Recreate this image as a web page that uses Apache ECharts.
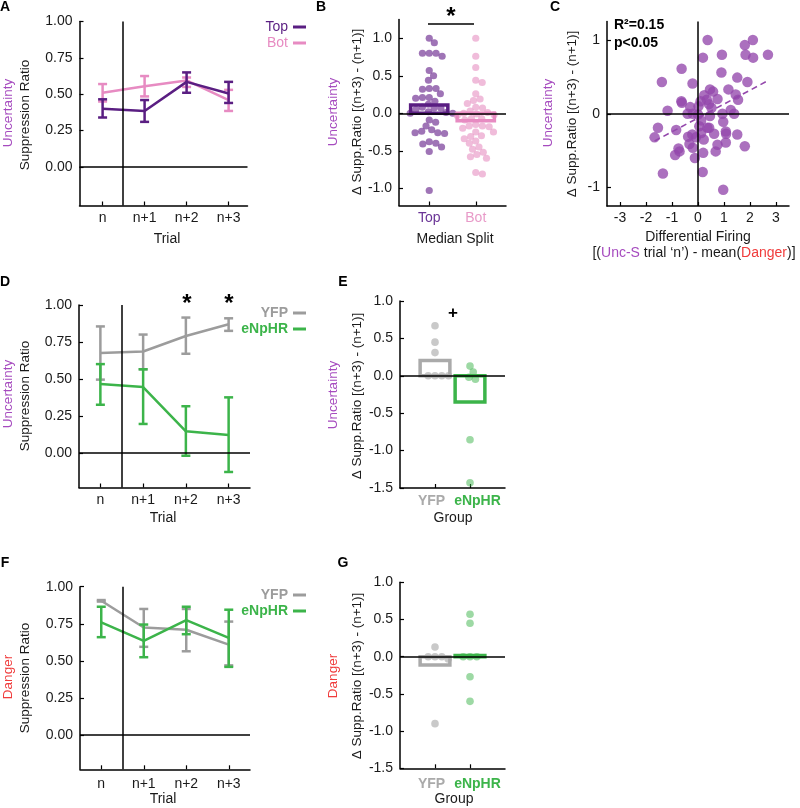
<!DOCTYPE html>
<html><head><meta charset="utf-8">
<script src="https://cdn.jsdelivr.net/npm/echarts@6/dist/echarts.min.js"></script>
<style>html,body{margin:0;padding:0;background:#fff}#c{width:800px;height:808px}</style>
</head><body><div id="c"></div>
<script>
// ---------------- DATA ----------------
const trialLabels = ['n', 'n+1', 'n+2', 'n+3'];
const trialPos = [1, 2, 3, 4];

// Panel A (Uncertainty, median split)
const aTopMean = [0.40, 0.385, 0.585, 0.505];
const aTopLo   = [0.34, 0.31, 0.51, 0.44];
const aTopHi   = [0.465, 0.46, 0.65, 0.585];
const aBotMean = [0.51, 0.555, 0.595, 0.46];
const aBotLo   = [0.45, 0.485, 0.55, 0.385];
const aBotHi   = [0.57, 0.625, 0.615, 0.53];

// Panel B
const splitLabels = ['Top', 'Bot'];
const bTop = [1.0, 0.94, 0.80, 0.80, 0.80, 0.76, 0.57, 0.50, 0.44, 0.33, 0.33, 0.32, 0.26, 0.21, 0.21, 0.20,
  0.16, 0.12, 0.08, 0.07, 0.07, 0.05, 0.02, 0.01, 0.0, 0.0, -0.09, -0.12, -0.17, -0.22, -0.24, -0.26, -0.27,
  -0.26, -0.38, -0.40, -0.41, -0.45, -0.51, -1.03];
const bBot = [1.0, 0.76, 0.61, 0.44, 0.41, 0.26, 0.19, 0.17, 0.13, 0.08, 0.07, 0.03, 0.01, 0.0, -0.01, -0.02,
  -0.03, -0.07, -0.07, -0.09, -0.15, -0.17, -0.17, -0.18, -0.20, -0.25, -0.25, -0.30, -0.31, -0.34, -0.37,
  -0.40, -0.45, -0.48, -0.52, -0.55, -0.58, -0.60, -0.79, -0.81];
const bMeans = [0.11, -0.10];

// Panel C
const cX = [0.37, 0.19, 0.92, 1.80, 2.11, 1.83, 2.12, 2.69, -0.63, -1.39, -0.21, 0.90, 1.90, 1.51, -0.64, -0.62,
  -1.17, -0.30, -0.40, -0.20, 0.00, 0.24, 0.46, 0.58, 0.34, 0.75, 0.42, 0.52, 1.17, 1.45, 1.54, 1.26, 1.39, 0.94,
  -1.54, -1.67, -0.84, -0.22, -0.08, -0.33, -0.20, -0.71, -0.88, -0.12, -1.35, 0.18, 0.20, 0.22, 0.43, 0.62, 0.68,
  0.75, 1.07, 1.07, 0.97, 1.51, 1.80, 0.97, 0.12, 0.02, 0.10, 0.46, 0.05, -0.38, -0.75, 0.12, 0.36, 1.08];
const cY = [1.00, 0.76, 0.80, 0.93, 1.00, 0.80, 0.76, 0.80, 0.61, 0.43, 0.41, 0.56, 0.43, 0.49, 0.17, 0.15,
  0.04, 0.09, 0.00, 0.00, -0.01, 0.25, 0.33, 0.30, 0.19, 0.20, 0.13, 0.08, 0.33, 0.26, 0.19, 0.05, 0.00, 0.00,
  -0.19, -0.32, -0.22, -0.28, -0.32, -0.41, -0.46, -0.51, -0.56, -0.60, -0.81, -0.79, -0.53, -0.35, -0.19, -0.27, -0.51,
  -0.42, -0.39, -0.24, -0.11, -0.28, -0.44, -1.03, -0.09, 0.10, 0.17, -0.03, -0.17, -0.31, -0.47, -0.26, -0.19, -0.27];
const cFitX = [-1.67, 2.70];
const cFitY = [-0.37, 0.45];
const cStats = ['R\u00b2=0.15', 'p<0.05'];

// Panels D-G
const groupLabels = ['YFP', 'eNpHR'];
const dYfpMean = [0.675, 0.685, 0.79, 0.87];
const dYfpLo   = [0.495, 0.565, 0.67, 0.825];
const dYfpHi   = [0.855, 0.80, 0.915, 0.91];
const dNpMean  = [0.465, 0.445, 0.145, 0.12];
const dNpLo    = [0.325, 0.195, -0.02, -0.13];
const dNpHi    = [0.60, 0.565, 0.315, 0.375];

const eYfp = [0.67, 0.45, 0.31, 0.0, 0.0, 0.0, 0.0];
const eNp  = [0.13, 0.05, -0.02, -0.045, -0.855, -1.43];
const eMeans = [0.205, -0.35];

const fYfpMean = [0.905, 0.725, 0.71, 0.61];
const fYfpLo   = [0.90, 0.595, 0.565, 0.47];
const fYfpHi   = [0.91, 0.85, 0.85, 0.765];
const fNpMean  = [0.76, 0.635, 0.775, 0.655];
const fNpLo    = [0.66, 0.525, 0.68, 0.46];
const fNpHi    = [0.865, 0.745, 0.865, 0.845];

const gYfp = [0.13, 0.0, 0.0, 0.0, -0.03, -0.9];
const gNp  = [0.57, 0.45, 0.0, 0.0, 0.0, -0.27, -0.6];
const gMeans = [-0.11, 0.015];

// ---------------- STYLE ----------------
const FONT = '"Liberation Sans", Arial, Helvetica, sans-serif';
const PURPLE_LBL = '#a64bbf';
const RED_LBL = '#f03c3c';
const TOP_C = '#5a1e82';
const BOT_C = '#e78bc2';
const GRAY_C = '#9c9c9c';
const GREEN_C = '#3cb44a';

const L = {
  A: {left: 79.5, top: 21.5, width: 168, height: 184, xmin: 0.45, xmax: 4.45, ymin: -0.265, ymax: 1},
  B: {left: 399, top: 19.5, width: 107, height: 186, xmin: 0.35, xmax: 2.65, ymin: -1.23, ymax: 1.25},
  C: {left: 607, top: 21.5, width: 182, height: 184.5, xmin: -3.5, xmax: 3.5, ymin: -1.25, ymax: 1.25},
  D: {left: 79, top: 305, width: 171, height: 182.5, xmin: 0.5, xmax: 4.5, ymin: -0.235, ymax: 1},
  E: {left: 400, top: 301, width: 105, height: 187, xmin: 0, xmax: 3, ymin: -1.5, ymax: 1},
  F: {left: 80, top: 586.7, width: 170, height: 182.6, xmin: 0.5, xmax: 4.5, ymin: -0.23, ymax: 1},
  G: {left: 400, top: 582.3, width: 105, height: 186, xmin: 0, xmax: 3, ymin: -1.5, ymax: 1}
};
const keys = ['A', 'B', 'C', 'D', 'E', 'F', 'G'];

function axisBase(min, max) {
  return {
    type: 'value', min: min, max: max, scale: true,
    axisLine: {show: true, onZero: false, lineStyle: {color: '#000', width: 1.5}},
    axisTick: {show: true, inside: true, length: 4, lineStyle: {color: '#000', width: 1.2}},
    axisLabel: {fontSize: 14, color: '#1a1a1a', fontFamily: FONT, interval: 0, hideOverlap: false,
      showMinLabel: true, showMaxLabel: true},
    splitLine: {show: false}
  };
}
const grids = keys.map(k => ({left: L[k].left, top: L[k].top, width: L[k].width, height: L[k].height}));

const xAxes = [], yAxes = [];
keys.forEach((k, i) => {
  const g = L[k];
  const x = axisBase(g.xmin, g.xmax); x.gridIndex = i;
  const y = axisBase(g.ymin, g.ymax); y.gridIndex = i;
  y.axisLabel.margin = 7;
  if (k === 'A' || k === 'D' || k === 'F') {
    x.axisLabel.customValues = trialPos; x.axisTick.customValues = trialPos;
    x.axisLabel.formatter = v => trialLabels[trialPos.indexOf(v)] || '';
    x.axisLabel.margin = k === 'F' ? 8 : 6;
    const yv = [0, 0.25, 0.5, 0.75, 1];
    y.axisLabel.customValues = yv; y.axisTick.customValues = yv;
    y.axisLabel.formatter = v => v.toFixed(2);
  } else if (k === 'B') {
    x.axisLabel.customValues = [1, 2]; x.axisTick.customValues = [1, 2];
    x.axisLabel.formatter = v => v === 1 ? '{t|' + splitLabels[0] + '}' : '{b|' + splitLabels[1] + '}';
    x.axisLabel.rich = {t: {color: '#6a3496', fontSize: 14, fontFamily: FONT}, b: {color: '#e89ac8', fontSize: 14, fontFamily: FONT}};
    x.axisLabel.margin = 6;
    const yv = [-1, -0.5, 0, 0.5, 1];
    y.axisLabel.customValues = yv; y.axisTick.customValues = yv;
    y.axisLabel.formatter = v => v.toFixed(1);
  } else if (k === 'C') {
    const xv = [-3, -2, -1, 0, 1, 2, 3];
    x.axisLabel.customValues = xv; x.axisTick.customValues = xv;
    x.axisLabel.formatter = v => String(v);
    x.axisLabel.margin = 5;
    const yv = [-1, 0, 1];
    y.axisLabel.customValues = yv; y.axisTick.customValues = yv;
    y.axisLabel.formatter = v => String(v);
  } else {
    x.axisLabel.customValues = [1, 2]; x.axisTick.customValues = [1, 2];
    x.axisLabel.formatter = v => v === 1 ? '{t|' + groupLabels[0] + '}' : '{b|' + groupLabels[1] + '}';
    x.axisLabel.rich = {t: {color: '#aaaaaa', fontSize: 14, fontWeight: 'bold', fontFamily: FONT, padding: [0, 7, 0, 0]},
                        b: {color: GREEN_C, fontSize: 14, fontWeight: 'bold', fontFamily: FONT, padding: [0, 0, 0, 15]}};
    x.axisLabel.margin = k === 'G' ? 9 : 6;
    const yv = [-1.5, -1, -0.5, 0, 0.5, 1];
    y.axisLabel.customValues = yv; y.axisTick.customValues = yv;
    y.axisLabel.formatter = v => v.toFixed(1);
  }
  xAxes.push(x); yAxes.push(y);
});

// ---------------- helpers ----------------
function zeroLines(list) {
  return {silent: true, symbol: 'none', animation: false, label: {show: false},
    lineStyle: {color: '#000', width: 1.5, type: 'solid'}, emphasis: {disabled: true}, data: list};
}
function lineSeries(name, gi, means, color, z, mark) {
  const s = {type: 'line', name: name, xAxisIndex: gi, yAxisIndex: gi,
    data: trialPos.map((x, i) => [x, means[i]]), symbol: 'none',
    lineStyle: {color: color, width: 2.5}, itemStyle: {color: color}, z: z, animation: false};
  if (mark) s.markLine = zeroLines(mark);
  return s;
}
function errRender(params, api) {
  const x = api.value(0), lo = api.value(1), hi = api.value(2);
  const a = api.coord([x, hi]), b = api.coord([x, lo]);
  const cw = 4.5, st = {stroke: api.visual('color'), lineWidth: 2.5};
  return {type: 'group', children: [
    {type: 'line', shape: {x1: a[0], y1: a[1], x2: b[0], y2: b[1]}, style: st},
    {type: 'line', shape: {x1: a[0] - cw, y1: a[1], x2: a[0] + cw, y2: a[1]}, style: st},
    {type: 'line', shape: {x1: b[0] - cw, y1: b[1], x2: b[0] + cw, y2: b[1]}, style: st}
  ]};
}
function errSeries(name, gi, lo, hi, color, z) {
  return {type: 'custom', name: name, xAxisIndex: gi, yAxisIndex: gi, renderItem: errRender,
    encode: {x: 0, y: [1, 2]}, data: trialPos.map((x, i) => [x, lo[i], hi[i]]),
    itemStyle: {color: color}, z: z, animation: false, silent: true};
}
function barSeries(name, gi, means, colors, widthUnits, z) {
  return {type: 'custom', name: name, xAxisIndex: gi, yAxisIndex: gi, z: z, animation: false, silent: true,
    encode: {x: 0, y: 1},
    data: means.map((m, i) => ({value: [i + 1, m], itemStyle: {color: colors[i]}})),
    renderItem: function (params, api) {
      const x = api.value(0), v = api.value(1);
      const p0 = api.coord([x - widthUnits / 2, 0]), p1 = api.coord([x + widthUnits / 2, v]);
      return {type: 'rect', shape: {x: Math.min(p0[0], p1[0]), y: Math.min(p0[1], p1[1]),
        width: Math.abs(p1[0] - p0[0]), height: Math.max(Math.abs(p1[1] - p0[1]), 0.5)},
        style: {fill: 'none', stroke: api.visual('color'), lineWidth: 3.5}};
    }};
}
// beeswarm: offsets computed in pixel space from the values
function swarm(vals, center, key, dist) {
  const g = L[key];
  const ppx = g.width / (g.xmax - g.xmin), ppy = g.height / (g.ymax - g.ymin);
  const order = vals.map((v, i) => i).sort((a, b) => vals[b] - vals[a]);
  const placed = [], out = new Array(vals.length);
  order.forEach(i => {
    const y = vals[i] * ppy;
    const cands = [0];
    placed.forEach(p => {
      const dy = Math.abs(p.y - y);
      if (dy < dist) { const dx = Math.sqrt(dist * dist - dy * dy); cands.push(p.x + dx, p.x - dx); }
    });
    cands.sort((a, b) => Math.abs(a) - Math.abs(b));
    let best = 0;
    for (const c of cands) {
      if (placed.every(p => (p.x - c) * (p.x - c) + (p.y - y) * (p.y - y) >= dist * dist - 1e-6)) { best = c; break; }
    }
    placed.push({x: best, y: y});
    out[i] = [center + best / ppx, vals[i]];
  });
  return out;
}
function dots(name, gi, data, color, opacity, size, z) {
  return {type: 'scatter', name: name, xAxisIndex: gi, yAxisIndex: gi, data: data, symbolSize: size,
    itemStyle: {color: color, opacity: opacity}, z: z, animation: false, silent: true};
}

// ---------------- SERIES ----------------
const series = [];
// A
series.push(lineSeries('Bot', 0, aBotMean, BOT_C, 2, [{yAxis: 0}, {xAxis: 1.47}]));
series.push(errSeries('Bot SEM', 0, aBotLo, aBotHi, BOT_C, 2));
series.push(lineSeries('Top', 0, aTopMean, TOP_C, 3));
series.push(errSeries('Top SEM', 0, aTopLo, aTopHi, TOP_C, 3));
// B
const bDotsTop = dots('Top cells', 1, swarm(bTop, 1, 'B', 6.8), '#7a3f9a', 0.72, 7.2, 2);
bDotsTop.markLine = zeroLines([{yAxis: 0}]);
series.push(bDotsTop);
series.push(dots('Bot cells', 1, swarm(bBot, 2, 'B', 6.8), '#e68cc0', 0.58, 7.2, 2));
series.push(barSeries('Split mean', 1, bMeans, [TOP_C, BOT_C], 0.8, 4));
// C
const cScatter = dots('Cells', 2, cX.map((x, i) => [x, cY[i]]), '#9448ac', 0.78, 10.5, 2);
cScatter.markLine = zeroLines([{yAxis: 0}, {xAxis: 0}]);
series.push(cScatter);
series.push({type: 'line', name: 'Fit', xAxisIndex: 2, yAxisIndex: 2, data: cFitX.map((x, i) => [x, cFitY[i]]),
  symbol: 'none', lineStyle: {color: '#9448ac', width: 1.6, type: [6, 4]}, z: 3, animation: false, silent: true});
// D
series.push(lineSeries('YFP', 3, dYfpMean, GRAY_C, 2, [{yAxis: 0}, {xAxis: 1.5}]));
series.push(errSeries('YFP SEM', 3, dYfpLo, dYfpHi, GRAY_C, 2));
series.push(lineSeries('eNpHR', 3, dNpMean, GREEN_C, 3));
series.push(errSeries('eNpHR SEM', 3, dNpLo, dNpHi, GREEN_C, 3));
// E
const eD1 = dots('YFP rats', 4, swarm(eYfp, 1, 'E', 6.8), '#b4b4b4', 0.72, 7.6, 2);
eD1.markLine = zeroLines([{yAxis: 0}]);
series.push(eD1);
series.push(dots('eNpHR rats', 4, swarm(eNp, 2, 'E', 6.8), GREEN_C, 0.5, 7.6, 2));
series.push(barSeries('Group mean E', 4, eMeans, ['#aaaaaa', GREEN_C], 0.85, 4));
// F
series.push(lineSeries('YFP', 5, fYfpMean, GRAY_C, 2, [{yAxis: 0}, {xAxis: 1.5}]));
series.push(errSeries('YFP SEM F', 5, fYfpLo, fYfpHi, GRAY_C, 2));
series.push(lineSeries('eNpHR', 5, fNpMean, GREEN_C, 3));
series.push(errSeries('eNpHR SEM F', 5, fNpLo, fNpHi, GREEN_C, 3));
// G
const gD1 = dots('YFP rats G', 6, swarm(gYfp, 1, 'G', 6.8), '#b4b4b4', 0.72, 7.6, 2);
gD1.markLine = zeroLines([{yAxis: 0}]);
series.push(gD1);
series.push(dots('eNpHR rats G', 6, swarm(gNp, 2, 'G', 6.8), GREEN_C, 0.5, 7.6, 2));
series.push(barSeries('Group mean G', 6, gMeans, ['#aaaaaa', GREEN_C], 0.85, 4));

// ---------------- LEGENDS ----------------
function legend(items, right, top, bold) {
  return {orient: 'vertical', align: 'right', right: right, top: top, icon: 'rect', itemWidth: 13, itemHeight: 3,
    itemGap: 0, selectedMode: false, padding: 0,
    textStyle: {fontSize: 14, fontFamily: FONT, fontWeight: bold ? 'bold' : 'normal', padding: [0, 0, 0, 0], lineHeight: 16},
    data: items.map(it => ({name: it[0], textStyle: {color: it[1]}}))};
}
const legends = [
  legend([['Top', TOP_C], ['Bot', BOT_C]], 494, 19, false),
  legend([['YFP', GRAY_C], ['eNpHR', GREEN_C]], 494, 305, true),
  legend([['YFP', GRAY_C], ['eNpHR', GREEN_C]], 494, 587, true)
];

// ---------------- TEXT ----------------
function t(x, y, text, o) {
  o = o || {};
  return {type: 'text', x: x, y: y, rotation: o.rot || 0, silent: true,
    style: {text: text, fill: o.color || '#1a1a1a', font: (o.bold ? 'bold ' : '') + (o.size || 13.5) + 'px ' + FONT,
      align: o.align || 'center', verticalAlign: 'middle', textAlign: o.align || 'center', textVerticalAlign: 'middle',
      rich: o.rich}};
}
const R90 = Math.PI / 2;
const deltaLbl = '\u0394 Supp.Ratio [(n+3) - (n+1)]';
const graphics = [
  t(5, 7, 'A', {bold: true, size: 14, color: '#000'}), t(321, 7, 'B', {bold: true, size: 14, color: '#000'}),
  t(555, 7, 'C', {bold: true, size: 14, color: '#000'}), t(5, 282, 'D', {bold: true, size: 14, color: '#000'}),
  t(343, 282, 'E', {bold: true, size: 14, color: '#000'}), t(5, 563, 'F', {bold: true, size: 14, color: '#000'}),
  t(343, 563, 'G', {bold: true, size: 14, color: '#000'}),
  // y titles
  t(8, 113, 'Uncertainty', {rot: R90, color: PURPLE_LBL}), t(25, 115, 'Suppression Ratio', {rot: R90}),
  t(333, 112, 'Uncertainty', {rot: R90, color: PURPLE_LBL}), t(357, 112, deltaLbl, {rot: R90}),
  t(548, 113, 'Uncertainty', {rot: R90, color: PURPLE_LBL}), t(572, 114, deltaLbl, {rot: R90}),
  t(8, 394, 'Uncertainty', {rot: R90, color: PURPLE_LBL}), t(25, 396, 'Suppression Ratio', {rot: R90}),
  t(333, 395, 'Uncertainty', {rot: R90, color: PURPLE_LBL}), t(357, 396, deltaLbl, {rot: R90}),
  t(8, 677, 'Danger', {rot: R90, color: RED_LBL}), t(25, 678, 'Suppression Ratio', {rot: R90}),
  t(333, 676, 'Danger', {rot: R90, color: RED_LBL}), t(357, 676, deltaLbl, {rot: R90}),
  // x titles
  t(167, 239, 'Trial', {size: 14}), t(455, 239, 'Median Split', {size: 14}),
  t(698, 237, 'Differential Firing', {size: 14}),
  t(694, 253, '[({u|Unc-S} trial \u2018n\u2019) - mean({r|Danger})]', {size: 14,
    rich: {u: {fill: PURPLE_LBL, font: '14px ' + FONT}, r: {fill: RED_LBL, font: '14px ' + FONT}}}),
  t(163, 518, 'Trial', {size: 14}), t(453, 518, 'Group', {size: 14}),
  t(163, 799, 'Trial', {size: 14}), t(454, 799, 'Group', {size: 14}),
  // annotations
  t(614, 25, cStats[0], {bold: true, size: 14, align: 'left', color: '#000'}),
  t(614, 43, cStats[1], {bold: true, size: 14, align: 'left', color: '#000'}),
  t(451, 17, '*', {bold: true, size: 24, color: '#000'}),
  {type: 'line', silent: true, shape: {x1: 428, y1: 24, x2: 474, y2: 24}, style: {stroke: '#000', lineWidth: 1.5}},
  t(187, 304, '*', {bold: true, size: 24, color: '#000'}),
  t(229, 304, '*', {bold: true, size: 24, color: '#000'}),
  t(453, 313, '+', {bold: true, size: 17, color: '#000'})
];

const chart = echarts.init(document.getElementById('c'), null, {renderer: 'canvas'});
chart.setOption({
  animation: false,
  backgroundColor: '#fff',
  textStyle: {fontFamily: FONT},
  grid: grids, xAxis: xAxes, yAxis: yAxes, legend: legends, series: series, graphic: graphics
});
</script></body></html>
